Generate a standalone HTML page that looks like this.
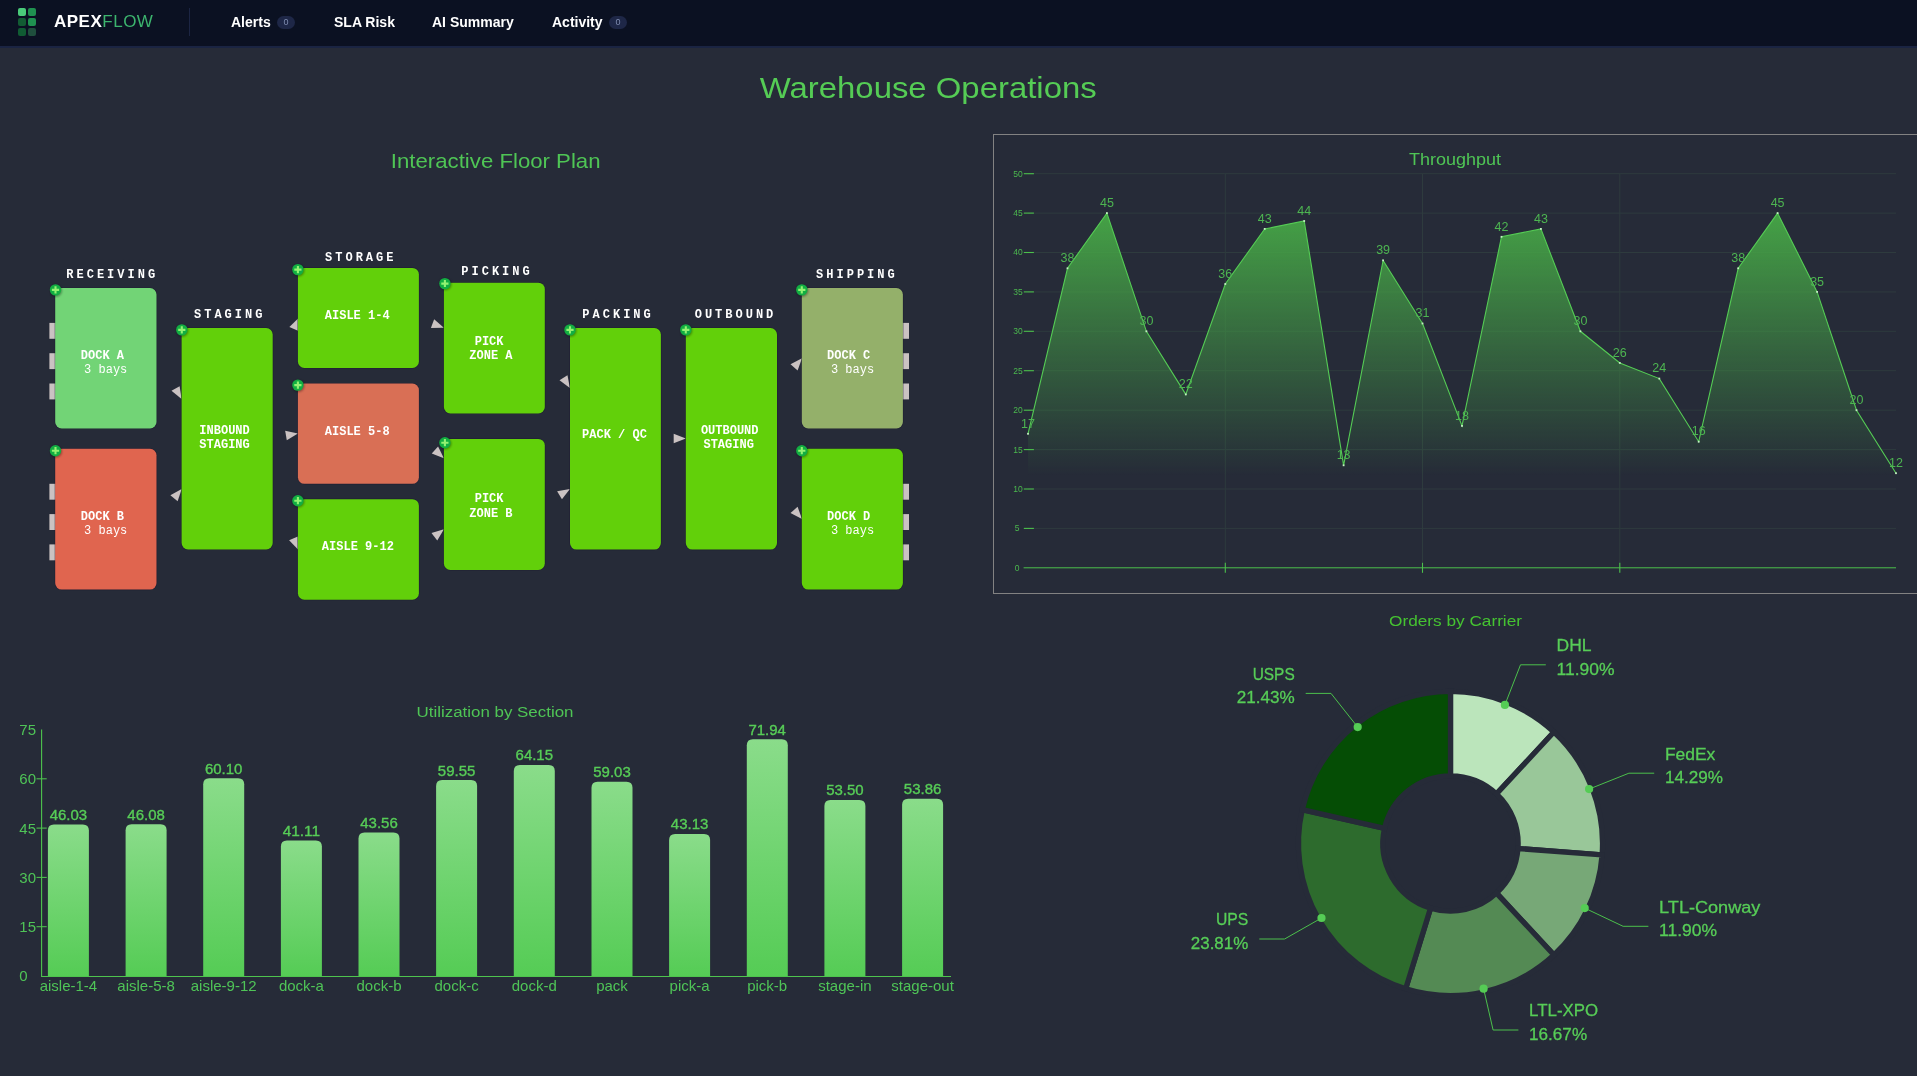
<!DOCTYPE html>
<html><head><meta charset="utf-8"><title>Warehouse Operations</title>
<style>
html,body{margin:0;padding:0;}
body{width:1917px;height:1076px;overflow:hidden;background:#262b38;font-family:"Liberation Sans",sans-serif;position:relative;}
#nav{position:absolute;left:0;top:0;width:1917px;height:46px;background:#0b1122;border-bottom:2px solid #1a2442;will-change:transform;}
#nav .sq{position:absolute;width:8px;height:8px;border-radius:2px;}
#nav .brand{position:absolute;left:54px;top:12px;font-size:17px;line-height:20px;font-weight:bold;color:#fff;letter-spacing:0.5px;white-space:nowrap;}
#nav .brand span{font-weight:normal;color:#3cb46e;}
#nav .div{position:absolute;left:189px;top:8px;width:1px;height:28px;background:#1c2543;}
#nav .it{position:absolute;top:14px;font-size:14px;line-height:16px;font-weight:bold;color:#fff;white-space:nowrap;}
#nav .bd{position:absolute;top:16px;width:18px;height:13px;border-radius:7px;background:#1e2747;color:#7f8cb0;font-size:9px;line-height:13px;text-align:center;}
svg{position:absolute;left:0;top:0;}
.mono{font-family:"Liberation Mono",monospace;}
.sans{font-family:"Liberation Sans",sans-serif;}
</style></head><body>

<div id="nav">
<div class="sq" style="left:18px;top:8px;background:#4acb7a"></div>
<div class="sq" style="left:28px;top:8px;background:#1f9150"></div>
<div class="sq" style="left:18px;top:18px;background:#125c33"></div>
<div class="sq" style="left:28px;top:18px;background:#1f9150"></div>
<div class="sq" style="left:18px;top:28px;background:#105c33"></div>
<div class="sq" style="left:28px;top:28px;background:#1f4f3d"></div>
<div class="brand">APEX<span>FLOW</span></div>
<div class="div"></div>
<div class="it" style="left:231px">Alerts</div><div class="bd" style="left:277px">0</div>
<div class="it" style="left:334px">SLA Risk</div>
<div class="it" style="left:432px">AI Summary</div>
<div class="it" style="left:552px">Activity</div><div class="bd" style="left:609px">0</div>
</div>
<svg width="1917" height="1076" viewBox="0 0 1917 1076">
<defs>
<linearGradient id="ag" gradientUnits="userSpaceOnUse" x1="0" y1="213" x2="0" y2="476">
<stop offset="0" stop-color="#45a246" stop-opacity="1"/><stop offset="1" stop-color="#45a246" stop-opacity="0"/></linearGradient>
<linearGradient id="bg" x1="0" y1="0" x2="0" y2="1"><stop offset="0" stop-color="#8adc8a"/><stop offset="1" stop-color="#55cc55"/></linearGradient>
<filter id="sh" x="-30%%" y="-30%%" width="160%%" height="160%%"><feGaussianBlur stdDeviation="0.9"/></filter>
</defs>
<text class="sans" x="928.2" y="98" font-size="29.8" fill="#55cc55" text-anchor="middle" textLength="337" lengthAdjust="spacingAndGlyphs">Warehouse Operations</text>
<text class="sans" x="495.7" y="168.1" font-size="20.3" fill="#4fc555" text-anchor="middle" textLength="209.7" lengthAdjust="spacingAndGlyphs">Interactive Floor Plan</text>
<rect x="49.4" y="322.9" width="7" height="15.9" fill="#cac2c2"/>
<rect x="902" y="322.9" width="7" height="15.9" fill="#cac2c2"/>
<rect x="49.4" y="353.2" width="7" height="15.9" fill="#cac2c2"/>
<rect x="902" y="353.2" width="7" height="15.9" fill="#cac2c2"/>
<rect x="49.4" y="383.5" width="7" height="15.9" fill="#cac2c2"/>
<rect x="902" y="383.5" width="7" height="15.9" fill="#cac2c2"/>
<rect x="49.4" y="483.8" width="7" height="15.9" fill="#cac2c2"/>
<rect x="902" y="483.8" width="7" height="15.9" fill="#cac2c2"/>
<rect x="49.4" y="514.1" width="7" height="15.9" fill="#cac2c2"/>
<rect x="902" y="514.1" width="7" height="15.9" fill="#cac2c2"/>
<rect x="49.4" y="544.4" width="7" height="15.9" fill="#cac2c2"/>
<rect x="902" y="544.4" width="7" height="15.9" fill="#cac2c2"/>
<path d="M0 0L-12.1 -4.7L-12.1 4.7Z" fill="#cac2c2" transform="translate(181.6 399.0) rotate(60.0)"/>
<path d="M0 0L-12.1 -4.7L-12.1 4.7Z" fill="#cac2c2" transform="translate(181.7 488.9) rotate(-50.5)"/>
<path d="M0 0L-12.1 -4.7L-12.1 4.7Z" fill="#cac2c2" transform="translate(298.6 317.9) rotate(-66.0)"/>
<path d="M0 0L-12.1 -4.7L-12.1 4.7Z" fill="#cac2c2" transform="translate(297.9 433.4) rotate(-10.0)"/>
<path d="M0 0L-12.1 -4.7L-12.1 4.7Z" fill="#cac2c2" transform="translate(298.0 549.6) rotate(68.0)"/>
<path d="M0 0L-12.1 -4.7L-12.1 4.7Z" fill="#cac2c2" transform="translate(443.9 327.7) rotate(20.0)"/>
<path d="M0 0L-12.1 -4.7L-12.1 4.7Z" fill="#cac2c2" transform="translate(443.9 458.2) rotate(42.0)"/>
<path d="M0 0L-12.1 -4.7L-12.1 4.7Z" fill="#cac2c2" transform="translate(443.9 529.3) rotate(-38.0)"/>
<path d="M0 0L-12.1 -4.7L-12.1 4.7Z" fill="#cac2c2" transform="translate(569.9 388.0) rotate(58.0)"/>
<path d="M0 0L-12.1 -4.7L-12.1 4.7Z" fill="#cac2c2" transform="translate(569.9 489.1) rotate(-31.0)"/>
<path d="M0 0L-12.1 -4.7L-12.1 4.7Z" fill="#cac2c2" transform="translate(685.8 438.5) rotate(0.0)"/>
<path d="M0 0L-12.1 -4.7L-12.1 4.7Z" fill="#cac2c2" transform="translate(802.0 358.2) rotate(-49.0)"/>
<path d="M0 0L-12.1 -4.7L-12.1 4.7Z" fill="#cac2c2" transform="translate(802.0 519.0) rotate(49.0)"/>
<rect x="55.2" y="288.0" width="101.3" height="140.5" rx="6.5" fill="#72d476" stroke="#1c1832" stroke-opacity="0.55" stroke-width="1.2" paint-order="stroke"/>
<text class="mono" x="102.45" y="359.3" font-size="12" fill="#fff" text-anchor="middle" font-weight="bold">DOCK A</text>
<text class="mono" x="105.70" y="373.4" font-size="12" fill="#fff" text-anchor="middle">3 bays</text>
<rect x="55.2" y="448.8" width="101.3" height="140.8" rx="6.5" fill="#e0654f" stroke="#1c1832" stroke-opacity="0.55" stroke-width="1.2" paint-order="stroke"/>
<text class="mono" x="102.45" y="520.3" font-size="12" fill="#fff" text-anchor="middle" font-weight="bold">DOCK B</text>
<text class="mono" x="105.70" y="534.4" font-size="12" fill="#fff" text-anchor="middle">3 bays</text>
<rect x="181.6" y="328.0" width="91.1" height="221.5" rx="6.5" fill="#62d00a" stroke="#1c1832" stroke-opacity="0.55" stroke-width="1.2" paint-order="stroke"/>
<text class="mono" x="224.55" y="433.9" font-size="12" fill="#fff" text-anchor="middle" font-weight="bold">INBOUND</text>
<text class="mono" x="224.55" y="448.0" font-size="12" fill="#fff" text-anchor="middle" font-weight="bold">STAGING</text>
<rect x="297.9" y="267.9" width="121.0" height="100.1" rx="6.5" fill="#62d00a" stroke="#1c1832" stroke-opacity="0.55" stroke-width="1.2" paint-order="stroke"/>
<text class="mono" x="357.20" y="319.0" font-size="12" fill="#fff" text-anchor="middle" font-weight="bold">AISLE 1-4</text>
<rect x="297.9" y="383.5" width="121.0" height="100.3" rx="6.5" fill="#d96f55" stroke="#1c1832" stroke-opacity="0.55" stroke-width="1.2" paint-order="stroke"/>
<text class="mono" x="357.20" y="434.8" font-size="12" fill="#fff" text-anchor="middle" font-weight="bold">AISLE 5-8</text>
<rect x="297.9" y="499.2" width="121.0" height="100.5" rx="6.5" fill="#62d00a" stroke="#1c1832" stroke-opacity="0.55" stroke-width="1.2" paint-order="stroke"/>
<text class="mono" x="357.85" y="550.4" font-size="12" fill="#fff" text-anchor="middle" font-weight="bold">AISLE 9-12</text>
<rect x="443.9" y="282.7" width="100.9" height="130.7" rx="6.5" fill="#62d00a" stroke="#1c1832" stroke-opacity="0.55" stroke-width="1.2" paint-order="stroke"/>
<text class="mono" x="489.10" y="345.1" font-size="12" fill="#fff" text-anchor="middle" font-weight="bold">PICK</text>
<text class="mono" x="490.90" y="359.3" font-size="12" fill="#fff" text-anchor="middle" font-weight="bold">ZONE A</text>
<rect x="443.9" y="438.9" width="100.9" height="131.0" rx="6.5" fill="#62d00a" stroke="#1c1832" stroke-opacity="0.55" stroke-width="1.2" paint-order="stroke"/>
<text class="mono" x="489.10" y="502.4" font-size="12" fill="#fff" text-anchor="middle" font-weight="bold">PICK</text>
<text class="mono" x="490.90" y="516.6" font-size="12" fill="#fff" text-anchor="middle" font-weight="bold">ZONE B</text>
<rect x="570.0" y="328.0" width="90.9" height="221.6" rx="6.5" fill="#62d00a" stroke="#1c1832" stroke-opacity="0.55" stroke-width="1.2" paint-order="stroke"/>
<text class="mono" x="614.45" y="437.7" font-size="12" fill="#fff" text-anchor="middle" font-weight="bold">PACK / QC</text>
<rect x="685.8" y="328.0" width="91.2" height="221.6" rx="6.5" fill="#62d00a" stroke="#1c1832" stroke-opacity="0.55" stroke-width="1.2" paint-order="stroke"/>
<text class="mono" x="729.70" y="434.2" font-size="12" fill="#fff" text-anchor="middle" font-weight="bold">OUTBOUND</text>
<text class="mono" x="728.65" y="448.3" font-size="12" fill="#fff" text-anchor="middle" font-weight="bold">STAGING</text>
<rect x="801.8" y="288.0" width="101.1" height="140.5" rx="6.5" fill="#94b06a" stroke="#1c1832" stroke-opacity="0.55" stroke-width="1.2" paint-order="stroke"/>
<text class="mono" x="848.70" y="359.3" font-size="12" fill="#fff" text-anchor="middle" font-weight="bold">DOCK C</text>
<text class="mono" x="852.50" y="373.4" font-size="12" fill="#fff" text-anchor="middle">3 bays</text>
<rect x="801.8" y="448.8" width="101.1" height="140.8" rx="6.5" fill="#62d00a" stroke="#1c1832" stroke-opacity="0.55" stroke-width="1.2" paint-order="stroke"/>
<text class="mono" x="848.70" y="520.3" font-size="12" fill="#fff" text-anchor="middle" font-weight="bold">DOCK D</text>
<text class="mono" x="852.50" y="534.4" font-size="12" fill="#fff" text-anchor="middle">3 bays</text>
<circle cx="56.1" cy="290.8" r="5.9" fill="#000" fill-opacity="0.35" filter="url(#sh)"/>
<circle cx="55.5" cy="289.9" r="5.7" fill="#12ae42"/>
<path d="M51.9 289.9h7.2M55.5 286.2v7.2" stroke="#92f272" stroke-width="2.1" fill="none"/>
<circle cx="56.1" cy="451.6" r="5.9" fill="#000" fill-opacity="0.35" filter="url(#sh)"/>
<circle cx="55.5" cy="450.7" r="5.7" fill="#12ae42"/>
<path d="M51.9 450.7h7.2M55.5 447.1v7.2" stroke="#92f272" stroke-width="2.1" fill="none"/>
<circle cx="182.4" cy="330.8" r="5.9" fill="#000" fill-opacity="0.35" filter="url(#sh)"/>
<circle cx="181.8" cy="329.9" r="5.7" fill="#12ae42"/>
<path d="M178.2 329.9h7.2M181.8 326.2v7.2" stroke="#92f272" stroke-width="2.1" fill="none"/>
<circle cx="298.5" cy="270.5" r="5.9" fill="#000" fill-opacity="0.35" filter="url(#sh)"/>
<circle cx="297.9" cy="269.6" r="5.7" fill="#12ae42"/>
<path d="M294.3 269.6h7.2M297.9 266.0v7.2" stroke="#92f272" stroke-width="2.1" fill="none"/>
<circle cx="298.5" cy="386.0" r="5.9" fill="#000" fill-opacity="0.35" filter="url(#sh)"/>
<circle cx="297.9" cy="385.1" r="5.7" fill="#12ae42"/>
<path d="M294.3 385.1h7.2M297.9 381.5v7.2" stroke="#92f272" stroke-width="2.1" fill="none"/>
<circle cx="298.5" cy="501.6" r="5.9" fill="#000" fill-opacity="0.35" filter="url(#sh)"/>
<circle cx="297.9" cy="500.8" r="5.7" fill="#12ae42"/>
<path d="M294.3 500.8h7.2M297.9 497.1v7.2" stroke="#92f272" stroke-width="2.1" fill="none"/>
<circle cx="445.5" cy="284.4" r="5.9" fill="#000" fill-opacity="0.35" filter="url(#sh)"/>
<circle cx="444.9" cy="283.6" r="5.7" fill="#12ae42"/>
<path d="M441.3 283.6h7.2M444.9 279.9v7.2" stroke="#92f272" stroke-width="2.1" fill="none"/>
<circle cx="445.5" cy="443.6" r="5.9" fill="#000" fill-opacity="0.35" filter="url(#sh)"/>
<circle cx="444.9" cy="442.8" r="5.7" fill="#12ae42"/>
<path d="M441.3 442.8h7.2M444.9 439.1v7.2" stroke="#92f272" stroke-width="2.1" fill="none"/>
<circle cx="570.6" cy="330.8" r="5.9" fill="#000" fill-opacity="0.35" filter="url(#sh)"/>
<circle cx="570.0" cy="329.9" r="5.7" fill="#12ae42"/>
<path d="M566.4 329.9h7.2M570.0 326.2v7.2" stroke="#92f272" stroke-width="2.1" fill="none"/>
<circle cx="686.4" cy="330.8" r="5.9" fill="#000" fill-opacity="0.35" filter="url(#sh)"/>
<circle cx="685.8" cy="329.9" r="5.7" fill="#12ae42"/>
<path d="M682.2 329.9h7.2M685.8 326.2v7.2" stroke="#92f272" stroke-width="2.1" fill="none"/>
<circle cx="802.4" cy="290.8" r="5.9" fill="#000" fill-opacity="0.35" filter="url(#sh)"/>
<circle cx="801.8" cy="289.9" r="5.7" fill="#12ae42"/>
<path d="M798.2 289.9h7.2M801.8 286.2v7.2" stroke="#92f272" stroke-width="2.1" fill="none"/>
<circle cx="802.4" cy="451.6" r="5.9" fill="#000" fill-opacity="0.35" filter="url(#sh)"/>
<circle cx="801.8" cy="450.7" r="5.7" fill="#12ae42"/>
<path d="M798.2 450.7h7.2M801.8 447.1v7.2" stroke="#92f272" stroke-width="2.1" fill="none"/>
<text class="mono" x="112.20" y="278.2" font-size="12" font-weight="bold" fill="#fff" text-anchor="middle" letter-spacing="3.0">RECEIVING</text>
<text class="mono" x="229.70" y="318.4" font-size="12" font-weight="bold" fill="#fff" text-anchor="middle" letter-spacing="3.0">STAGING</text>
<text class="mono" x="360.75" y="261.3" font-size="12" font-weight="bold" fill="#fff" text-anchor="middle" letter-spacing="3.0">STORAGE</text>
<text class="mono" x="497.00" y="275.4" font-size="12" font-weight="bold" fill="#fff" text-anchor="middle" letter-spacing="3.0">PICKING</text>
<text class="mono" x="618.05" y="318.4" font-size="12" font-weight="bold" fill="#fff" text-anchor="middle" letter-spacing="3.0">PACKING</text>
<text class="mono" x="735.50" y="318.4" font-size="12" font-weight="bold" fill="#fff" text-anchor="middle" letter-spacing="3.0">OUTBOUND</text>
<text class="mono" x="856.90" y="278.2" font-size="12" font-weight="bold" fill="#fff" text-anchor="middle" letter-spacing="3.0">SHIPPING</text>
<rect x="993.5" y="134.5" width="940" height="459" fill="none" stroke="#828282" stroke-width="1" shape-rendering="crispEdges"/>
<text class="sans" x="1455" y="165" font-size="16" fill="#4fc555" text-anchor="middle" textLength="92" lengthAdjust="spacingAndGlyphs">Throughput</text>
<line x1="1028.0" y1="528.4" x2="1896.0" y2="528.4" stroke="#2e3b3e" stroke-width="1"/>
<line x1="1028.0" y1="489.0" x2="1896.0" y2="489.0" stroke="#2e3b3e" stroke-width="1"/>
<line x1="1028.0" y1="449.6" x2="1896.0" y2="449.6" stroke="#2e3b3e" stroke-width="1"/>
<line x1="1028.0" y1="410.2" x2="1896.0" y2="410.2" stroke="#2e3b3e" stroke-width="1"/>
<line x1="1028.0" y1="370.7" x2="1896.0" y2="370.7" stroke="#2e3b3e" stroke-width="1"/>
<line x1="1028.0" y1="331.3" x2="1896.0" y2="331.3" stroke="#2e3b3e" stroke-width="1"/>
<line x1="1028.0" y1="291.9" x2="1896.0" y2="291.9" stroke="#2e3b3e" stroke-width="1"/>
<line x1="1028.0" y1="252.5" x2="1896.0" y2="252.5" stroke="#2e3b3e" stroke-width="1"/>
<line x1="1028.0" y1="213.1" x2="1896.0" y2="213.1" stroke="#2e3b3e" stroke-width="1"/>
<line x1="1028.0" y1="173.7" x2="1896.0" y2="173.7" stroke="#2e3b3e" stroke-width="1"/>
<line x1="1225.3" y1="173.7" x2="1225.3" y2="567.8" stroke="#2e3b3e" stroke-width="1"/>
<line x1="1422.5" y1="173.7" x2="1422.5" y2="567.8" stroke="#2e3b3e" stroke-width="1"/>
<line x1="1619.8" y1="173.7" x2="1619.8" y2="567.8" stroke="#2e3b3e" stroke-width="1"/>
<polygon points="1028.0,433.8 1067.5,268.3 1106.9,213.1 1146.4,331.3 1185.8,394.4 1225.3,284.0 1264.7,228.9 1304.2,221.0 1343.6,465.3 1383.1,260.4 1422.5,323.5 1462.0,425.9 1501.5,236.8 1540.9,228.9 1580.4,331.3 1619.8,362.9 1659.3,378.6 1698.7,441.7 1738.2,268.3 1777.6,213.1 1817.1,291.9 1856.5,410.2 1896.0,473.2 1896.0,567.8 1028.0,567.8" fill="url(#ag)"/>
<polyline points="1028.0,433.8 1067.5,268.3 1106.9,213.1 1146.4,331.3 1185.8,394.4 1225.3,284.0 1264.7,228.9 1304.2,221.0 1343.6,465.3 1383.1,260.4 1422.5,323.5 1462.0,425.9 1501.5,236.8 1540.9,228.9 1580.4,331.3 1619.8,362.9 1659.3,378.6 1698.7,441.7 1738.2,268.3 1777.6,213.1 1817.1,291.9 1856.5,410.2 1896.0,473.2" fill="none" stroke="#55cc55" stroke-width="1.1"/>
<rect x="1027.1" y="432.9" width="1.8" height="1.8" fill="#c4f0c4"/>
<text class="sans" x="1028.0" y="427.5" font-size="12.5" fill="#4db551" text-anchor="middle">17</text>
<rect x="1066.6" y="267.4" width="1.8" height="1.8" fill="#c4f0c4"/>
<text class="sans" x="1067.5" y="262.0" font-size="12.5" fill="#4db551" text-anchor="middle">38</text>
<rect x="1106.0" y="212.2" width="1.8" height="1.8" fill="#c4f0c4"/>
<text class="sans" x="1106.9" y="206.8" font-size="12.5" fill="#4db551" text-anchor="middle">45</text>
<rect x="1145.5" y="330.4" width="1.8" height="1.8" fill="#c4f0c4"/>
<text class="sans" x="1146.4" y="325.0" font-size="12.5" fill="#4db551" text-anchor="middle">30</text>
<rect x="1184.9" y="393.5" width="1.8" height="1.8" fill="#c4f0c4"/>
<text class="sans" x="1185.8" y="388.1" font-size="12.5" fill="#4db551" text-anchor="middle">22</text>
<rect x="1224.4" y="283.1" width="1.8" height="1.8" fill="#c4f0c4"/>
<text class="sans" x="1225.3" y="277.7" font-size="12.5" fill="#4db551" text-anchor="middle">36</text>
<rect x="1263.8" y="228.0" width="1.8" height="1.8" fill="#c4f0c4"/>
<text class="sans" x="1264.7" y="222.6" font-size="12.5" fill="#4db551" text-anchor="middle">43</text>
<rect x="1303.3" y="220.1" width="1.8" height="1.8" fill="#c4f0c4"/>
<text class="sans" x="1304.2" y="214.7" font-size="12.5" fill="#4db551" text-anchor="middle">44</text>
<rect x="1342.7" y="464.4" width="1.8" height="1.8" fill="#c4f0c4"/>
<text class="sans" x="1343.6" y="459.0" font-size="12.5" fill="#4db551" text-anchor="middle">13</text>
<rect x="1382.2" y="259.5" width="1.8" height="1.8" fill="#c4f0c4"/>
<text class="sans" x="1383.1" y="254.1" font-size="12.5" fill="#4db551" text-anchor="middle">39</text>
<rect x="1421.6" y="322.6" width="1.8" height="1.8" fill="#c4f0c4"/>
<text class="sans" x="1422.5" y="317.2" font-size="12.5" fill="#4db551" text-anchor="middle">31</text>
<rect x="1461.1" y="425.0" width="1.8" height="1.8" fill="#c4f0c4"/>
<text class="sans" x="1462.0" y="419.6" font-size="12.5" fill="#4db551" text-anchor="middle">18</text>
<rect x="1500.6" y="235.9" width="1.8" height="1.8" fill="#c4f0c4"/>
<text class="sans" x="1501.5" y="230.5" font-size="12.5" fill="#4db551" text-anchor="middle">42</text>
<rect x="1540.0" y="228.0" width="1.8" height="1.8" fill="#c4f0c4"/>
<text class="sans" x="1540.9" y="222.6" font-size="12.5" fill="#4db551" text-anchor="middle">43</text>
<rect x="1579.5" y="330.4" width="1.8" height="1.8" fill="#c4f0c4"/>
<text class="sans" x="1580.4" y="325.0" font-size="12.5" fill="#4db551" text-anchor="middle">30</text>
<rect x="1618.9" y="362.0" width="1.8" height="1.8" fill="#c4f0c4"/>
<text class="sans" x="1619.8" y="356.6" font-size="12.5" fill="#4db551" text-anchor="middle">26</text>
<rect x="1658.4" y="377.7" width="1.8" height="1.8" fill="#c4f0c4"/>
<text class="sans" x="1659.3" y="372.3" font-size="12.5" fill="#4db551" text-anchor="middle">24</text>
<rect x="1697.8" y="440.8" width="1.8" height="1.8" fill="#c4f0c4"/>
<text class="sans" x="1698.7" y="435.4" font-size="12.5" fill="#4db551" text-anchor="middle">16</text>
<rect x="1737.3" y="267.4" width="1.8" height="1.8" fill="#c4f0c4"/>
<text class="sans" x="1738.2" y="262.0" font-size="12.5" fill="#4db551" text-anchor="middle">38</text>
<rect x="1776.7" y="212.2" width="1.8" height="1.8" fill="#c4f0c4"/>
<text class="sans" x="1777.6" y="206.8" font-size="12.5" fill="#4db551" text-anchor="middle">45</text>
<rect x="1816.2" y="291.0" width="1.8" height="1.8" fill="#c4f0c4"/>
<text class="sans" x="1817.1" y="285.6" font-size="12.5" fill="#4db551" text-anchor="middle">35</text>
<rect x="1855.6" y="409.3" width="1.8" height="1.8" fill="#c4f0c4"/>
<text class="sans" x="1856.5" y="403.9" font-size="12.5" fill="#4db551" text-anchor="middle">20</text>
<rect x="1895.1" y="472.3" width="1.8" height="1.8" fill="#c4f0c4"/>
<text class="sans" x="1896.0" y="466.9" font-size="12.5" fill="#4db551" text-anchor="middle">12</text>
<line x1="1023.6" y1="567.8" x2="1896.0" y2="567.8" stroke="#4cc04c" stroke-width="1"/>
<line x1="1225.3" y1="562.8" x2="1225.3" y2="572.8" stroke="#4cc04c" stroke-width="1.1"/>
<line x1="1422.5" y1="562.8" x2="1422.5" y2="572.8" stroke="#4cc04c" stroke-width="1.1"/>
<line x1="1619.8" y1="562.8" x2="1619.8" y2="572.8" stroke="#4cc04c" stroke-width="1.1"/>
<text class="sans" x="1019.5" y="570.7" font-size="8.5" fill="#4bb84e" text-anchor="end">0</text>
<text class="sans" x="1019.5" y="531.3" font-size="8.5" fill="#4bb84e" text-anchor="end">5</text>
<line x1="1023.8" y1="528.4" x2="1033.9" y2="528.4" stroke="#4cc04c" stroke-width="1.1"/>
<text class="sans" x="1022.7" y="491.9" font-size="8.5" fill="#4bb84e" text-anchor="end">10</text>
<line x1="1023.8" y1="489.0" x2="1033.9" y2="489.0" stroke="#4cc04c" stroke-width="1.1"/>
<text class="sans" x="1022.7" y="452.5" font-size="8.5" fill="#4bb84e" text-anchor="end">15</text>
<line x1="1023.8" y1="449.6" x2="1033.9" y2="449.6" stroke="#4cc04c" stroke-width="1.1"/>
<text class="sans" x="1022.7" y="413.1" font-size="8.5" fill="#4bb84e" text-anchor="end">20</text>
<line x1="1023.8" y1="410.2" x2="1033.9" y2="410.2" stroke="#4cc04c" stroke-width="1.1"/>
<text class="sans" x="1022.7" y="373.6" font-size="8.5" fill="#4bb84e" text-anchor="end">25</text>
<line x1="1023.8" y1="370.7" x2="1033.9" y2="370.7" stroke="#4cc04c" stroke-width="1.1"/>
<text class="sans" x="1022.7" y="334.2" font-size="8.5" fill="#4bb84e" text-anchor="end">30</text>
<line x1="1023.8" y1="331.3" x2="1033.9" y2="331.3" stroke="#4cc04c" stroke-width="1.1"/>
<text class="sans" x="1022.7" y="294.8" font-size="8.5" fill="#4bb84e" text-anchor="end">35</text>
<line x1="1023.8" y1="291.9" x2="1033.9" y2="291.9" stroke="#4cc04c" stroke-width="1.1"/>
<text class="sans" x="1022.7" y="255.4" font-size="8.5" fill="#4bb84e" text-anchor="end">40</text>
<line x1="1023.8" y1="252.5" x2="1033.9" y2="252.5" stroke="#4cc04c" stroke-width="1.1"/>
<text class="sans" x="1022.7" y="216.0" font-size="8.5" fill="#4bb84e" text-anchor="end">45</text>
<line x1="1023.8" y1="213.1" x2="1033.9" y2="213.1" stroke="#4cc04c" stroke-width="1.1"/>
<text class="sans" x="1022.7" y="176.6" font-size="8.5" fill="#4bb84e" text-anchor="end">50</text>
<line x1="1023.8" y1="173.7" x2="1033.9" y2="173.7" stroke="#4cc04c" stroke-width="1.1"/>
<text class="sans" x="495" y="716.5" font-size="15.5" fill="#4fc555" text-anchor="middle" textLength="157" lengthAdjust="spacingAndGlyphs">Utilization by Section</text>
<path d="M47.9 976.0V830.4Q47.9 824.4 53.9 824.4H82.9Q88.9 824.4 88.9 830.4V976.0Z" fill="url(#bg)"/>
<text class="sans" x="68.4" y="819.9" font-size="14.5" fill="#57cd57" text-anchor="middle" textLength="37.5" lengthAdjust="spacingAndGlyphs" stroke="#57cd57" stroke-width="0.35">46.03</text>
<text class="sans" x="68.4" y="991.0" font-size="15" fill="#4fc457" text-anchor="middle">aisle-1-4</text>
<path d="M125.6 976.0V830.3Q125.6 824.3 131.6 824.3H160.6Q166.6 824.3 166.6 830.3V976.0Z" fill="url(#bg)"/>
<text class="sans" x="146.1" y="819.8" font-size="14.5" fill="#57cd57" text-anchor="middle" textLength="37.5" lengthAdjust="spacingAndGlyphs" stroke="#57cd57" stroke-width="0.35">46.08</text>
<text class="sans" x="146.1" y="991.0" font-size="15" fill="#4fc457" text-anchor="middle">aisle-5-8</text>
<path d="M203.2 976.0V784.2Q203.2 778.2 209.2 778.2H238.2Q244.2 778.2 244.2 784.2V976.0Z" fill="url(#bg)"/>
<text class="sans" x="223.7" y="773.7" font-size="14.5" fill="#57cd57" text-anchor="middle" textLength="37.5" lengthAdjust="spacingAndGlyphs" stroke="#57cd57" stroke-width="0.35">60.10</text>
<text class="sans" x="223.7" y="991.0" font-size="15" fill="#4fc457" text-anchor="middle">aisle-9-12</text>
<path d="M280.9 976.0V846.6Q280.9 840.6 286.9 840.6H315.9Q321.9 840.6 321.9 846.6V976.0Z" fill="url(#bg)"/>
<text class="sans" x="301.4" y="836.1" font-size="14.5" fill="#57cd57" text-anchor="middle" textLength="37.5" lengthAdjust="spacingAndGlyphs" stroke="#57cd57" stroke-width="0.35">41.11</text>
<text class="sans" x="301.4" y="991.0" font-size="15" fill="#4fc457" text-anchor="middle">dock-a</text>
<path d="M358.5 976.0V838.5Q358.5 832.5 364.5 832.5H393.5Q399.5 832.5 399.5 838.5V976.0Z" fill="url(#bg)"/>
<text class="sans" x="379.0" y="828.0" font-size="14.5" fill="#57cd57" text-anchor="middle" textLength="37.5" lengthAdjust="spacingAndGlyphs" stroke="#57cd57" stroke-width="0.35">43.56</text>
<text class="sans" x="379.0" y="991.0" font-size="15" fill="#4fc457" text-anchor="middle">dock-b</text>
<path d="M436.1 976.0V786.0Q436.1 780.0 442.1 780.0H471.1Q477.1 780.0 477.1 786.0V976.0Z" fill="url(#bg)"/>
<text class="sans" x="456.6" y="775.5" font-size="14.5" fill="#57cd57" text-anchor="middle" textLength="37.5" lengthAdjust="spacingAndGlyphs" stroke="#57cd57" stroke-width="0.35">59.55</text>
<text class="sans" x="456.6" y="991.0" font-size="15" fill="#4fc457" text-anchor="middle">dock-c</text>
<path d="M513.8 976.0V770.9Q513.8 764.9 519.8 764.9H548.8Q554.8 764.9 554.8 770.9V976.0Z" fill="url(#bg)"/>
<text class="sans" x="534.3" y="760.4" font-size="14.5" fill="#57cd57" text-anchor="middle" textLength="37.5" lengthAdjust="spacingAndGlyphs" stroke="#57cd57" stroke-width="0.35">64.15</text>
<text class="sans" x="534.3" y="991.0" font-size="15" fill="#4fc457" text-anchor="middle">dock-d</text>
<path d="M591.5 976.0V787.7Q591.5 781.7 597.5 781.7H626.5Q632.5 781.7 632.5 787.7V976.0Z" fill="url(#bg)"/>
<text class="sans" x="612.0" y="777.2" font-size="14.5" fill="#57cd57" text-anchor="middle" textLength="37.5" lengthAdjust="spacingAndGlyphs" stroke="#57cd57" stroke-width="0.35">59.03</text>
<text class="sans" x="612.0" y="991.0" font-size="15" fill="#4fc457" text-anchor="middle">pack</text>
<path d="M669.1 976.0V839.9Q669.1 833.9 675.1 833.9H704.1Q710.1 833.9 710.1 839.9V976.0Z" fill="url(#bg)"/>
<text class="sans" x="689.6" y="829.4" font-size="14.5" fill="#57cd57" text-anchor="middle" textLength="37.5" lengthAdjust="spacingAndGlyphs" stroke="#57cd57" stroke-width="0.35">43.13</text>
<text class="sans" x="689.6" y="991.0" font-size="15" fill="#4fc457" text-anchor="middle">pick-a</text>
<path d="M746.8 976.0V745.3Q746.8 739.3 752.8 739.3H781.8Q787.8 739.3 787.8 745.3V976.0Z" fill="url(#bg)"/>
<text class="sans" x="767.2" y="734.8" font-size="14.5" fill="#57cd57" text-anchor="middle" textLength="37.5" lengthAdjust="spacingAndGlyphs" stroke="#57cd57" stroke-width="0.35">71.94</text>
<text class="sans" x="767.2" y="991.0" font-size="15" fill="#4fc457" text-anchor="middle">pick-b</text>
<path d="M824.4 976.0V805.9Q824.4 799.9 830.4 799.9H859.4Q865.4 799.9 865.4 805.9V976.0Z" fill="url(#bg)"/>
<text class="sans" x="844.9" y="795.4" font-size="14.5" fill="#57cd57" text-anchor="middle" textLength="37.5" lengthAdjust="spacingAndGlyphs" stroke="#57cd57" stroke-width="0.35">53.50</text>
<text class="sans" x="844.9" y="991.0" font-size="15" fill="#4fc457" text-anchor="middle">stage-in</text>
<path d="M902.1 976.0V804.7Q902.1 798.7 908.1 798.7H937.1Q943.1 798.7 943.1 804.7V976.0Z" fill="url(#bg)"/>
<text class="sans" x="922.6" y="794.2" font-size="14.5" fill="#57cd57" text-anchor="middle" textLength="37.5" lengthAdjust="spacingAndGlyphs" stroke="#57cd57" stroke-width="0.35">53.86</text>
<text class="sans" x="922.6" y="991.0" font-size="15" fill="#4fc457" text-anchor="middle">stage-out</text>
<path d="M41.6 729.5V976.5H951" fill="none" stroke="#4ec44e" stroke-width="1.1"/>
<text class="sans" x="27.5" y="981.0" font-size="15" fill="#4fc457" text-anchor="end">0</text>
<text class="sans" x="36.0" y="932.2" font-size="15" fill="#4fc457" text-anchor="end">15</text>
<line x1="36.5" y1="926.7" x2="46.7" y2="926.7" stroke="#4ec44e" stroke-width="1.05"/>
<text class="sans" x="36.0" y="882.9" font-size="15" fill="#4fc457" text-anchor="end">30</text>
<line x1="36.5" y1="877.4" x2="46.7" y2="877.4" stroke="#4ec44e" stroke-width="1.05"/>
<text class="sans" x="36.0" y="833.6" font-size="15" fill="#4fc457" text-anchor="end">45</text>
<line x1="36.5" y1="828.1" x2="46.7" y2="828.1" stroke="#4ec44e" stroke-width="1.05"/>
<text class="sans" x="36.0" y="784.3" font-size="15" fill="#4fc457" text-anchor="end">60</text>
<line x1="36.5" y1="778.8" x2="46.7" y2="778.8" stroke="#4ec44e" stroke-width="1.05"/>
<text class="sans" x="36.0" y="735.0" font-size="15" fill="#4fc457" text-anchor="end">75</text>
<text class="sans" x="1455.5" y="626.4" font-size="15.5" fill="#45c231" text-anchor="middle" textLength="133" lengthAdjust="spacingAndGlyphs">Orders by Carrier</text>
<path d="M1450.50 691.45A152.1 152.1 0 0 1 1553.92 732.04L1496.51 793.91A67.7 67.7 0 0 0 1450.50 775.85Z" fill="#bbe5bb" stroke="#262b38" stroke-width="5.30" stroke-linejoin="miter"/>
<path d="M1553.92 732.04A152.1 152.1 0 0 1 1602.12 854.86L1517.96 848.56A67.7 67.7 0 0 0 1496.51 793.91Z" fill="#99c799" stroke="#262b38" stroke-width="5.30" stroke-linejoin="miter"/>
<path d="M1602.12 854.86A152.1 152.1 0 0 1 1553.92 954.96L1496.51 893.09A67.7 67.7 0 0 0 1517.96 848.56Z" fill="#77a877" stroke="#262b38" stroke-width="5.30" stroke-linejoin="miter"/>
<path d="M1553.92 954.96A152.1 152.1 0 0 1 1405.68 988.79L1430.56 908.14A67.7 67.7 0 0 0 1496.51 893.09Z" fill="#548a54" stroke="#262b38" stroke-width="5.30" stroke-linejoin="miter"/>
<path d="M1405.68 988.79A152.1 152.1 0 0 1 1302.26 809.67L1384.55 828.45A67.7 67.7 0 0 0 1430.56 908.14Z" fill="#2d6b2d" stroke="#262b38" stroke-width="5.30" stroke-linejoin="miter"/>
<path d="M1302.26 809.67A152.1 152.1 0 0 1 1450.50 691.45L1450.50 775.85A67.7 67.7 0 0 0 1384.55 828.45Z" fill="#054d05" stroke="#262b38" stroke-width="5.30" stroke-linejoin="miter"/>
<path d="M1504.9 704.9L1520.5 664.8H1545.8" fill="none" stroke="#4cc04c" stroke-width="1"/>
<circle cx="1504.9" cy="704.9" r="4.1" fill="#55cc55"/>
<text class="sans" x="1556.5" y="651.2" text-anchor="start" textLength="35.0" font-size="17" fill="#57cd57" stroke="#57cd57" stroke-width="0.3" lengthAdjust="spacingAndGlyphs">DHL</text>
<text class="sans" x="1556.5" y="674.6" text-anchor="start" textLength="58.0" font-size="17" fill="#57cd57" stroke="#57cd57" stroke-width="0.3" lengthAdjust="spacingAndGlyphs">11.90%</text>
<path d="M1589.1 789.1L1628.9 773.2H1654.2" fill="none" stroke="#4cc04c" stroke-width="1"/>
<circle cx="1589.1" cy="789.1" r="4.1" fill="#55cc55"/>
<text class="sans" x="1664.9" y="759.6" text-anchor="start" textLength="50.4" font-size="17" fill="#57cd57" stroke="#57cd57" stroke-width="0.3" lengthAdjust="spacingAndGlyphs">FedEx</text>
<text class="sans" x="1664.9" y="783.0" text-anchor="start" textLength="58.0" font-size="17" fill="#57cd57" stroke="#57cd57" stroke-width="0.3" lengthAdjust="spacingAndGlyphs">14.29%</text>
<path d="M1584.7 908.1L1623.1 926.3H1648.4" fill="none" stroke="#4cc04c" stroke-width="1"/>
<circle cx="1584.7" cy="908.1" r="4.1" fill="#55cc55"/>
<text class="sans" x="1659.1" y="912.7" text-anchor="start" textLength="101.3" font-size="17" fill="#57cd57" stroke="#57cd57" stroke-width="0.3" lengthAdjust="spacingAndGlyphs">LTL-Conway</text>
<text class="sans" x="1659.1" y="936.1" text-anchor="start" textLength="58.0" font-size="17" fill="#57cd57" stroke="#57cd57" stroke-width="0.3" lengthAdjust="spacingAndGlyphs">11.90%</text>
<path d="M1483.6 988.7L1493.1 1030.0H1518.4" fill="none" stroke="#4cc04c" stroke-width="1"/>
<circle cx="1483.6" cy="988.7" r="4.1" fill="#55cc55"/>
<text class="sans" x="1529.1" y="1016.4" text-anchor="start" textLength="69.0" font-size="17" fill="#57cd57" stroke="#57cd57" stroke-width="0.3" lengthAdjust="spacingAndGlyphs">LTL-XPO</text>
<text class="sans" x="1529.1" y="1039.8" text-anchor="start" textLength="58.0" font-size="17" fill="#57cd57" stroke="#57cd57" stroke-width="0.3" lengthAdjust="spacingAndGlyphs">16.67%</text>
<path d="M1321.5 918.0L1284.6 939.0H1259.3" fill="none" stroke="#4cc04c" stroke-width="1"/>
<circle cx="1321.5" cy="918.0" r="4.1" fill="#55cc55"/>
<text class="sans" x="1248.3" y="925.4" text-anchor="end" textLength="32.3" font-size="17" fill="#57cd57" stroke="#57cd57" stroke-width="0.3" lengthAdjust="spacingAndGlyphs">UPS</text>
<text class="sans" x="1248.3" y="948.8" text-anchor="end" textLength="57.5" font-size="17" fill="#57cd57" stroke="#57cd57" stroke-width="0.3" lengthAdjust="spacingAndGlyphs">23.81%</text>
<path d="M1357.7 727.1L1331.0 693.4H1305.7" fill="none" stroke="#4cc04c" stroke-width="1"/>
<circle cx="1357.7" cy="727.1" r="4.1" fill="#55cc55"/>
<text class="sans" x="1294.7" y="679.8" text-anchor="end" textLength="42.0" font-size="17" fill="#57cd57" stroke="#57cd57" stroke-width="0.3" lengthAdjust="spacingAndGlyphs">USPS</text>
<text class="sans" x="1294.7" y="703.2" text-anchor="end" textLength="58.0" font-size="17" fill="#57cd57" stroke="#57cd57" stroke-width="0.3" lengthAdjust="spacingAndGlyphs">21.43%</text>
</svg></body></html>
